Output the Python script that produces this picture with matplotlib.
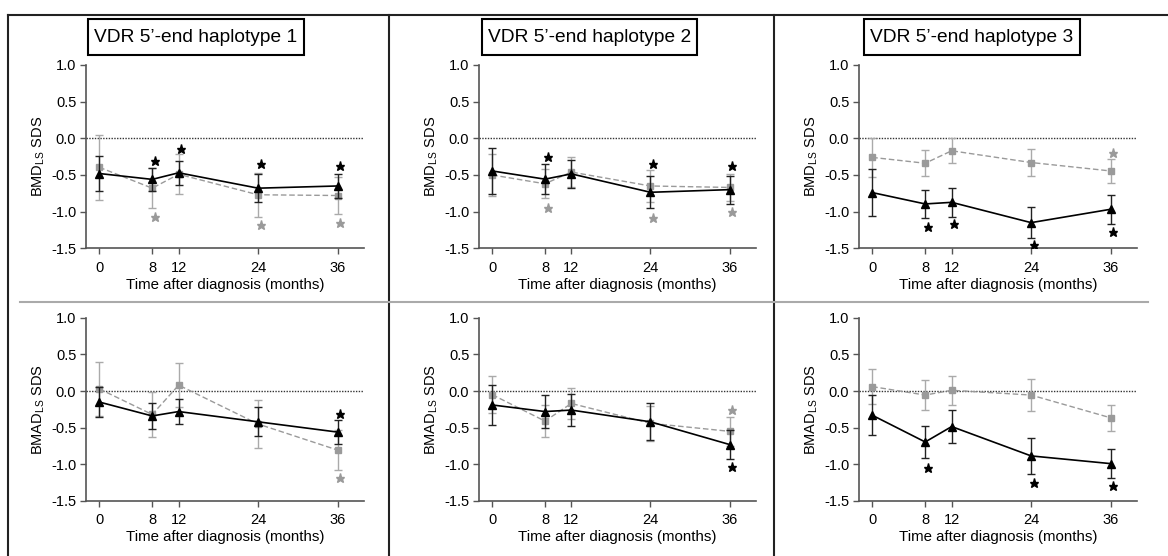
import matplotlib as mpl
import matplotlib.pyplot as plt
from matplotlib.lines import Line2D
from matplotlib.patches import Rectangle

FONT = ['Liberation Sans', 'DejaVu Sans']
plt.rcParams['font.family'] = FONT
plt.rcParams['mathtext.fontset'] = 'custom'
plt.rcParams['mathtext.rm'] = 'Liberation Sans'

months = [0, 8, 12, 24, 36]
xticks = [0, 8, 12, 24, 36]
yticks = [1.0, 0.5, 0.0, -0.5, -1.0, -1.5]
titles = ["VDR 5\u2019-end haplotype 1", "VDR 5\u2019-end haplotype 2",
          "VDR 5\u2019-end haplotype 3"]
xlabel = "Time after diagnosis (months)"
ylabels = [r"BMD$_{\mathrm{LS}}$ SDS", r"BMAD$_{\mathrm{LS}}$ SDS"]

# BMD, haplotype 1
bmd1_black = [-0.48, -0.56, -0.47, -0.68, -0.65]
bmd1_black_err = [0.245, 0.155, 0.16, 0.19, 0.165]
bmd1_gray = [-0.395, -0.68, -0.49, -0.77, -0.78]
bmd1_gray_err = [0.44, 0.27, 0.27, 0.30, 0.25]
bmd1_star_black = ([8, 12, 24, 36], [-0.31, -0.14, -0.355, -0.38])
bmd1_star_gray = ([8, 24, 36], [-1.07, -1.18, -1.15])

# BMD, haplotype 2
bmd2_black = [-0.445, -0.557, -0.485, -0.736, -0.70]
bmd2_black_err = [0.31, 0.20, 0.195, 0.22, 0.19]
bmd2_gray = [-0.50, -0.62, -0.46, -0.65, -0.67]
bmd2_gray_err = [0.29, 0.195, 0.20, 0.22, 0.18]
bmd2_star_black = ([8, 24, 36], [-0.26, -0.35, -0.375])
bmd2_star_gray = ([8, 24, 36], [-0.95, -1.08, -1.0])

# BMD, haplotype 3
bmd3_black = [-0.74, -0.895, -0.873, -1.15, -0.968]
bmd3_black_err = [0.32, 0.185, 0.195, 0.215, 0.195]
bmd3_gray = [-0.26, -0.34, -0.17, -0.33, -0.445]
bmd3_gray_err = [0.27, 0.175, 0.17, 0.19, 0.165]
bmd3_star_black = ([8, 12, 24, 36], [-1.205, -1.17, -1.45, -1.28])
bmd3_star_gray = ([36], [-0.195])

# BMAD, haplotype 1
bmad1_black = [-0.15, -0.34, -0.28, -0.42, -0.56]
bmad1_black_err = [0.20, 0.18, 0.17, 0.20, 0.165]
bmad1_gray = [0.03, -0.32, 0.08, -0.45, -0.805]
bmad1_gray_err = [0.37, 0.31, 0.30, 0.33, 0.27]
bmad1_star_black = ([36], [-0.31])
bmad1_star_gray = ([36], [-1.18])

# BMAD, haplotype 2
bmad2_black = [-0.19, -0.28, -0.26, -0.42, -0.73]
bmad2_black_err = [0.27, 0.22, 0.22, 0.25, 0.195]
bmad2_gray = [-0.05, -0.41, -0.17, -0.44, -0.55]
bmad2_gray_err = [0.25, 0.22, 0.21, 0.24, 0.20]
bmad2_star_black = ([36], [-1.03])
bmad2_star_gray = ([36], [-0.265])

# BMAD, haplotype 3
bmad3_black = [-0.33, -0.695, -0.485, -0.885, -0.99]
bmad3_black_err = [0.27, 0.22, 0.23, 0.25, 0.20]
bmad3_gray = [0.06, -0.055, 0.01, -0.055, -0.365]
bmad3_gray_err = [0.24, 0.205, 0.20, 0.22, 0.18]
bmad3_star_black = ([8, 24, 36], [-1.045, -1.26, -1.30])
bmad3_star_gray = ([], [])

panels = [
    [bmd1_black, bmd1_black_err, bmd1_gray, bmd1_gray_err, bmd1_star_black, bmd1_star_gray],
    [bmd2_black, bmd2_black_err, bmd2_gray, bmd2_gray_err, bmd2_star_black, bmd2_star_gray],
    [bmd3_black, bmd3_black_err, bmd3_gray, bmd3_gray_err, bmd3_star_black, bmd3_star_gray],
    [bmad1_black, bmad1_black_err, bmad1_gray, bmad1_gray_err, bmad1_star_black, bmad1_star_gray],
    [bmad2_black, bmad2_black_err, bmad2_gray, bmad2_gray_err, bmad2_star_black, bmad2_star_gray],
    [bmad3_black, bmad3_black_err, bmad3_gray, bmad3_gray_err, bmad3_star_black, bmad3_star_gray],
]

W, H = 1168, 556
GRAY = '#9a9a9a'
AXC = '#555555'

fig = plt.figure(figsize=(W / 100, H / 100), dpi=100)


def px(x0, y0, w, h):
    # pixel box (top-left origin) -> figure fraction
    return [x0 / W, (H - y0 - h) / H, w / W, h / H]


col_left = [86, 479, 859]
col_width = [278, 277, 278]
row_top = [65, 317.7]
ax_h = 183.3

for i, (blk, blk_e, gry, gry_e, st_b, st_g) in enumerate(panels):
    r, c = divmod(i, 3)
    ax = fig.add_axes(px(col_left[c], row_top[r], col_width[c], ax_h))
    ax.axhline(0, color='#333333', ls=(0, (1, 1)), lw=1.0, zorder=1)

    ax.errorbar(months, gry, yerr=gry_e, color=GRAY, ecolor='#aaaaaa',
                ls=(0, (4, 2)), lw=1.0, marker='s', ms=5, mec=GRAY,
                mfc=GRAY, capsize=3, elinewidth=1.0, capthick=1.0, zorder=2)
    ax.errorbar(months, blk, yerr=blk_e, color='black', ecolor='#222222',
                ls='-', lw=1.2, marker='^', ms=5.5, capsize=3,
                elinewidth=1.0, capthick=1.0, zorder=3)

    sx, sy = st_b
    ax.plot([v + 0.4 for v in sx], sy, ls='none', marker='*', ms=6.5,
            color='black', zorder=4)
    sx, sy = st_g
    ax.plot([v + 0.4 for v in sx], sy, ls='none', marker='*', ms=6.5,
            color=GRAY, zorder=4)

    ax.set_xlim(-2, 40)
    ax.set_ylim(-1.5, 1.0)
    ax.set_xticks(xticks)
    ax.set_yticks(yticks)
    ax.set_yticklabels(['%.1f' % v for v in yticks])
    for s in ['top', 'right']:
        ax.spines[s].set_visible(False)
    for s in ['left', 'bottom']:
        ax.spines[s].set_color(AXC)
        ax.spines[s].set_linewidth(1.2)
    ax.tick_params(direction='out', length=4, width=1, color=AXC,
                   labelsize=10.5, pad=3)
    ax.tick_params(axis='x', pad=5)
    ax.set_xlabel(xlabel, fontsize=10.8, labelpad=2)
    ax.set_ylabel(ylabels[r], fontsize=10.5, labelpad=3)

# title boxes
boxes = [(88, 19, 216, 36), (482, 19, 215, 36), (864, 19, 216, 36)]
for (bx, by, bw, bh), t in zip(boxes, titles):
    fig.add_artist(Rectangle((bx / W, (H - by - bh) / H), bw / W, bh / H,
                             transform=fig.transFigure, fill=False,
                             ec='black', lw=1.5))
    fig.text((bx + bw / 2) / W, (H - by - bh / 2) / H, t, fontsize=13.8,
             ha='center', va='center')

# frame lines
def hline(y, x0, x1, color, lw):
    fig.add_artist(Line2D([x0 / W, x1 / W], [(H - y) / H, (H - y) / H],
                          transform=fig.transFigure, color=color, lw=lw))


def vline(x, y0, y1, color, lw):
    fig.add_artist(Line2D([x / W, x / W], [(H - y0) / H, (H - y1) / H],
                          transform=fig.transFigure, color=color, lw=lw))


hline(15, 8, 1168, '#222222', 1.5)
vline(8, 15, 556, '#222222', 1.5)
vline(389, 15, 556, '#222222', 1.5)
vline(774, 15, 556, '#222222', 1.5)
hline(302, 20, 1148, '#aaaaaa', 1.5)

fig.savefig('out.png', dpi=100)
